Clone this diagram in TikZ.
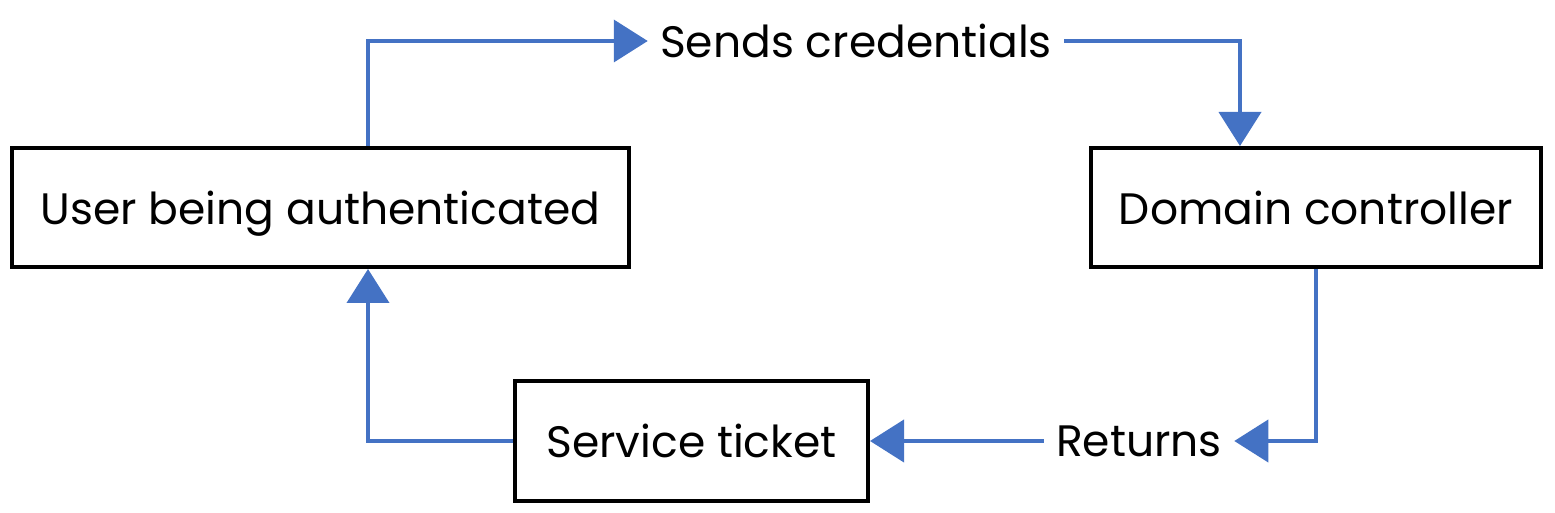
\documentclass[tikz,border=0pt]{standalone}
\usepackage{fontspec}
\setmainfont{Poppins}
\usetikzlibrary{arrows.meta}
\definecolor{flowblue}{HTML}{4472C4}
\tikzset{
  box/.style={draw=black, line width=2pt, inner sep=0pt, text depth=0pt, font=\fontsize{22}{26}\selectfont},
  lbl/.style={inner xsep=6pt, inner ysep=0pt, text depth=0pt, font=\fontsize{22}{26}\selectfont},
  flow/.style={draw=flowblue, line width=2pt, -{Triangle[length=17pt, width=21pt]}},
}
\begin{document}
\begin{tikzpicture}[x=0.5pt, y=-0.5pt]
  \useasboundingbox (0,0) rectangle (1555,513);
  \node[box, minimum width=308.5pt, minimum height=59.5pt] (b1) at (320.5,207.5) {User being authenticated};
  \node[box, minimum width=225pt, minimum height=59.5pt] (b2) at (1316,207.5) {Domain controller};
  \node[box, minimum width=176.5pt, minimum height=60pt] (b3) at (691.5,441) {Service ticket};
  \node[lbl] (sends) at (856,41) {Sends credentials};
  \node[lbl] (returns) at (1139,441) {Returns};
  \coordinate (k1) at (368,0);
  \coordinate (k2) at (1240,0);
  \draw[flow] (b1.north -| k1) |- (sends.west);
  \draw[flow] (sends.east) -| (k2 |- b2.north);
  \draw[flow] (b2.south) |- (returns.east);
  \draw[flow] (returns.west) -- (b3.east);
  \draw[flow] (b3.west) -| (k1 |- b1.south);
\end{tikzpicture}
\end{document}
